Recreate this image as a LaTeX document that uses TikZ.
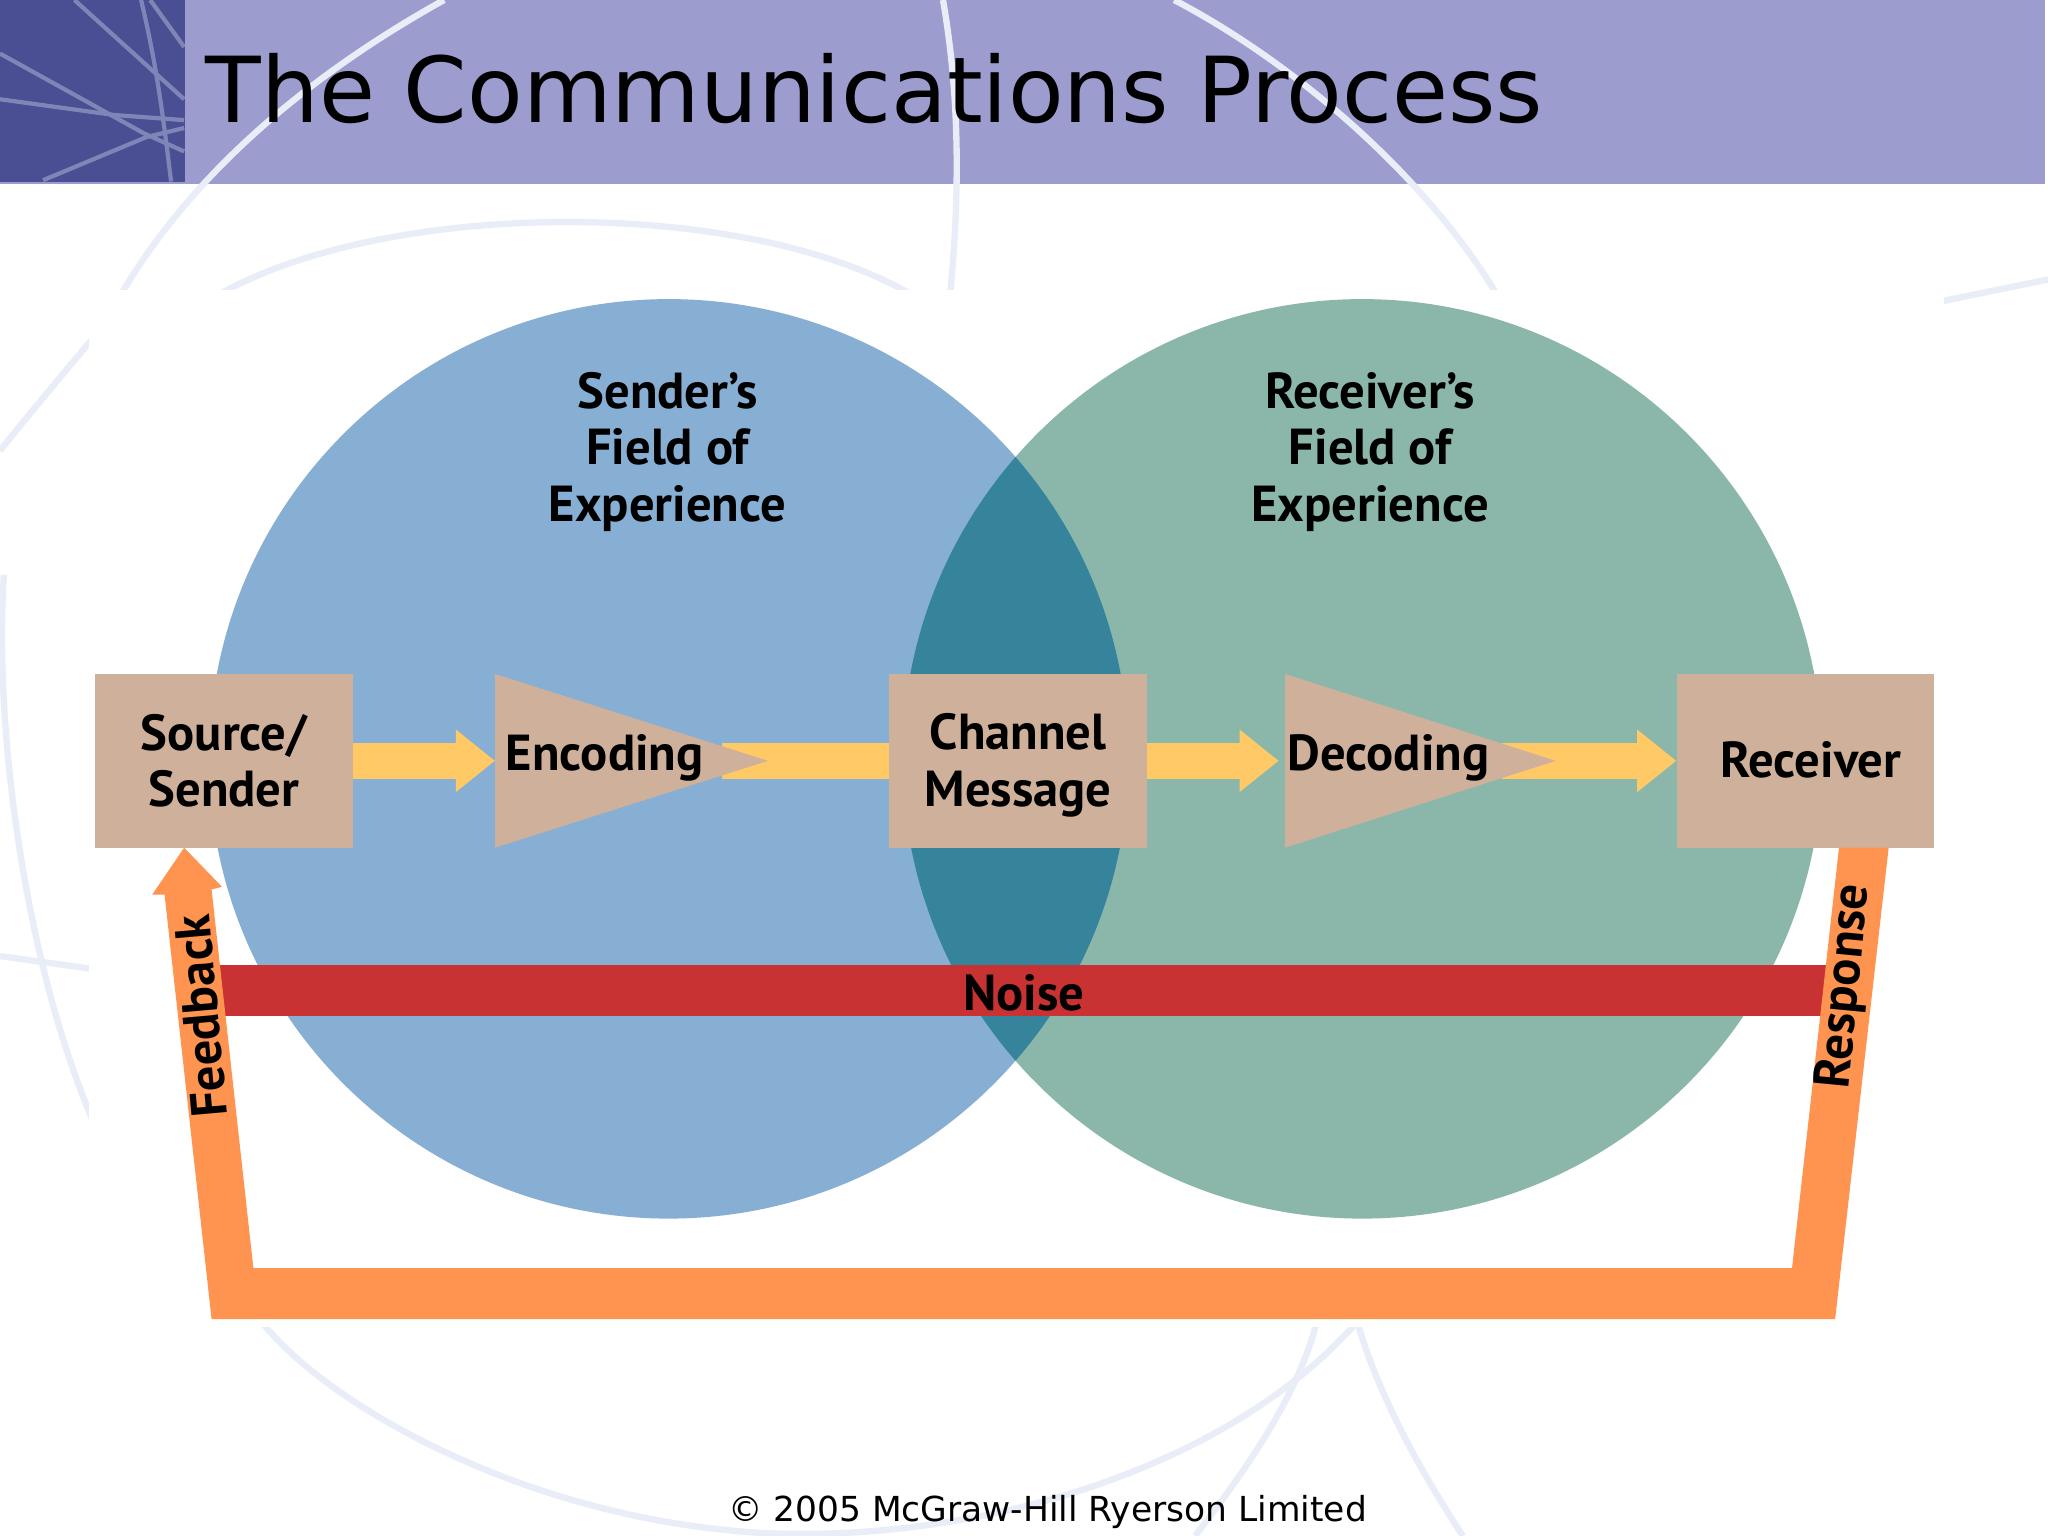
\documentclass[tikz,border=0pt]{standalone}
\usepackage{fontspec}
\usetikzlibrary{arrows.meta}
\setmainfont{DejaVu Sans}
\newfontfamily\labelfont{PT Sans}
\definecolor{bandcol}{HTML}{9C9CCE}
\definecolor{cornercol}{HTML}{4A4E92}
\definecolor{cornerline}{HTML}{8085B8}
\definecolor{palecol}{HTML}{E8EDF8}
\definecolor{sendercol}{HTML}{87AED3}
\definecolor{receivercol}{HTML}{8BB7AB}
\definecolor{overlapcol}{HTML}{35849B}
\definecolor{boxcol}{HTML}{CFB19B}
\definecolor{flowcol}{HTML}{FFC966}
\definecolor{loopcol}{HTML}{FF9350}
\definecolor{noisecol}{HTML}{C83232}
\tikzset{
	labeltext/.style={font=\labelfont\bfseries\fontsize{14.4}{16.1}\selectfont},
	field/.style={circle, minimum size=9.195cm, inner sep=0pt},
	fieldtext/.style={align=center, labeltext},
	stagebox/.style={rectangle, fill=boxcol, minimum width=2.573cm, minimum height=1.737cm, inner sep=0pt, align=center, labeltext},
	stagetext/.style={inner sep=0pt, labeltext},
	flowbar/.style={draw=flowcol, line width=0.366cm},
	flow/.style={flowbar, -{Triangle[length=0.392cm,width=0.6cm]}},
	pale/.style={draw=palecol, line width=1.8pt},
	corner/.style={draw=cornerline, line width=1.2pt}
}
\begin{document}
\begin{tikzpicture}[x=0.013061cm, y=-0.013061cm]
	\useasboundingbox (0,0) rectangle (1568,1176);
	\fill[white] (0,0) rectangle (1568,1176);
	\fill[bandcol] (0,0) rectangle (1566,141);
	\begin{scope}
		\clip (0,0) rectangle (141.5,139);
		\fill[cornercol] (0,0) rectangle (141.5,139);
		\draw[corner] (57,0) -- (141,76);
		\draw[corner] (108,0) .. controls (120,50) and (125,90) .. (131,139);
		\draw[corner] (115,0) -- (141,36);
		\draw[corner] (0,41) -- (74,82) -- (110,102) -- (141,116);
		\draw[corner] (0,76) -- (87,88) -- (141,92);
		\draw[corner] (33,138) -- (112,105) -- (141,98);
	\end{scope}
	\draw[pale] (340,0) .. controls (250,50) and (150,125) .. (90,230);
	\draw[pale] (722,0) .. controls (735,75) and (735,150) .. (727,230);
	\draw[pale] (160,230) .. controls (290,150) and (580,150) .. (705,230);
	\draw[pale] (899,0) .. controls (985,45) and (1090,130) .. (1150,232);
	\draw[pale] (1480,232) -- (1568,214);
	\draw[pale] (72,258) .. controls (45,290) and (20,320) .. (0,345);
	\draw[pale] (3,440) .. controls (-5,560) and (20,740) .. (72,860);
	\draw[pale] (0,732) -- (72,742);
	\draw[pale] (195,1005) .. controls (240,1070) and (400,1165) .. (590,1174) .. controls (760,1180) and (950,1120) .. (1045,1005);
	\draw[pale] (1010,1005) .. controls (995,1070) and (950,1130) .. (915,1176);
	\draw[pale] (1037,1005) .. controls (1055,1070) and (1090,1130) .. (1120,1176);
	\fill[white] (68,222) rectangle (1488,1016);
	\node[anchor=base west, inner sep=0pt, font=\fontsize{25.9}{30}\selectfont] (title) at (157,94) {The Communications Process};
	\node[field, fill=sendercol] (senderfield) at (512,581) {};
	\node[field, fill=receivercol] (receiverfield) at (1043,581) {};
	\begin{scope}
		\clip (512,581) circle (352);
		\fill[overlapcol] (1043,581) circle (352);
	\end{scope}
	\node[fieldtext] (sendertext) at (511,346) {Sender’s\\Field of\\Experience};
	\node[fieldtext] (receivertext) at (1049,346) {Receiver’s\\Field of\\Experience};
	\node[stagebox] (source) at (171.5,582.5) {Source/\\Sender};
	\node[stagebox] (channel) at (779.5,582.5) {\rule{0pt}{12.9pt}Channel\\Message};
	\node[stagebox] (receiver) at (1382.5,582.5) {\hspace{0.1cm}\raisebox{0.03cm}{Receiver}};
	\coordinate (enchead) at (379,582.5);
	\coordinate (enctail) at (553,582.5);
	\coordinate (dechead) at (979,582.5);
	\coordinate (dectail) at (1150,582.5);
	\draw[flow] (source) -- (enchead);
	\draw[flowbar] (enctail) -- (channel);
	\draw[flow] (channel) -- (dechead);
	\draw[flow] (dectail) -- (receiver);
	\fill[boxcol] (379,516) -- (588,582.5) -- (379,649) -- cycle;
	\fill[boxcol] (984,516) -- (1191,582.5) -- (984,649) -- cycle;
	\node[stagetext] (encoding) at (463,580) {Encoding};
	\node[stagetext] (decoding) at (1063,580) {Decoding};
	\fill[noisecol] (168,739) rectangle (1400,778);
	\node[stagetext] (noise) at (784,760) {Noise};
	\fill[loopcol] (141,649) -- (170,679) -- (162,681) -- (194,971) -- (1372,971) -- (1408,649) -- (1446,649) -- (1405,1010) -- (162,1010) -- (126,685) -- (116.5,685) -- cycle;
	\node[stagetext, rotate=95] (feedback) at (154,778) {Feedback};
	\node[stagetext, rotate=84.5] (response) at (1413,755) {Response};
	\node[inner sep=0pt, font=\fontsize{9.8}{12}\selectfont] (copyright) at (802,1158) {© 2005 McGraw-Hill Ryerson Limited};
\end{tikzpicture}
\end{document}
